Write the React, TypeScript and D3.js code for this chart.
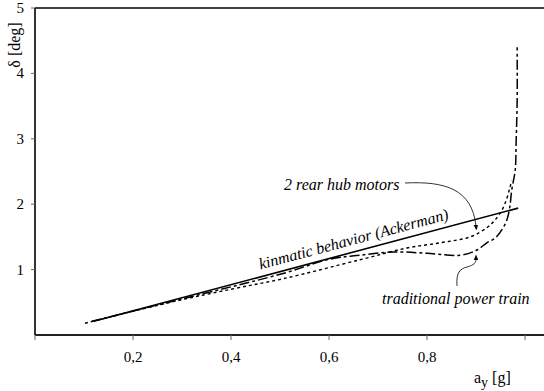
import React from "react";
import * as d3 from "d3";

const W = 544;
const H = 391;

// lateral acceleration ticks [g] and steering angle ticks [deg]
const xTicks = [0, 0.2, 0.4, 0.6, 0.8, 1.0];
const xTickLabels = ["", "0,2", "0,4", "0,6", "0,8", ""];
const yTicks = [1, 2, 3, 4, 5];
const yTickLabels = ["1", "2", "3", "4", "5"];

// kinematic (Ackerman) steering angle
const kinematicAy = [0.12, 0.986];
const kinematicDelta = [0.21, 1.94];

// vehicle with 2 rear hub motors
const hubAy = [0.102, 0.276, 0.4, 0.506, 0.663, 0.759, 0.827, 0.888, 0.922, 0.939, 0.953, 0.963, 0.969, 0.973];
const hubDelta = [0.18, 0.5, 0.7, 0.86, 1.15, 1.33, 1.41, 1.5, 1.64, 1.76, 1.91, 2.09, 2.25, 2.36];

// vehicle with traditional power train
const tradAy = [0.116, 0.337, 0.506, 0.602, 0.663, 0.731, 0.8, 0.867, 0.902, 0.922, 0.939, 0.953, 0.963, 0.969, 0.973, 0.98, 0.982, 0.984, 0.984];
const tradDelta = [0.21, 0.62, 0.94, 1.16, 1.22, 1.27, 1.25, 1.22, 1.3, 1.41, 1.48, 1.61, 1.76, 1.96, 2.22, 2.52, 2.98, 3.59, 4.4];

const serif = "Times New Roman";

export default function App() {
  const x = d3.scaleLinear().domain([0, 1]).range([35, 525]);
  const y = d3.scaleLinear().domain([0, 5]).range([335, 8]);

  const zip = (xs: number[], ys: number[]) => xs.map((v, i) => [v, ys[i]] as [number, number]);
  const line = d3
    .line<[number, number]>()
    .x((d) => x(d[0]))
    .y((d) => y(d[1]))
    .curve(d3.curveCatmullRom.alpha(0.5));

  const kinPath = line(zip(kinematicAy, kinematicDelta)) || "";
  const hubPath = line(zip(hubAy, hubDelta)) || "";
  const tradPath = line(zip(tradAy, tradDelta)) || "";

  const x0 = x(0);
  const yBottom = y(0);
  const yTop = y(5);

  // annotation arrows
  const hubTip: [number, number] = [x(0.9), y(1.575)];
  const hubStart: [number, number] = [405, 183];
  const hubArrow = `M${hubStart[0]},${hubStart[1]} C${hubStart[0] + 40},${hubStart[1] - 2} ${hubTip[0] - 4},${hubStart[1] + 6} ${hubTip[0]},${hubTip[1] - 6}`;

  const tradTip: [number, number] = [x(0.9), y(1.255)];
  const tradArrow = `M457,286 C456,272 460,269 467,267 C474,265 ${tradTip[0]},263 ${tradTip[0]},${tradTip[1] + 6}`;

  // rotation of the kinematic label follows the line slope
  const angle =
    (Math.atan2(
      y(kinematicDelta[1]) - y(kinematicDelta[0]),
      x(kinematicAy[1]) - x(kinematicAy[0])
    ) *
      180) /
    Math.PI;

  const lx = x(0.46);
  const ly = y(0.94) - 4;

  return (
    <svg width={W} height={H} fontFamily={serif} style={{ position: "absolute", left: 0, top: 0, background: "#fff" }}>
      <rect width={W} height={H} fill="#fff" />
      <defs>
        <marker id="head" viewBox="0 0 10 10" refX="2" refY="5" markerWidth="7" markerHeight="7" orient="auto">
          <path d="M0,1 L10,5 L0,9 Z" fill="#000" />
        </marker>
      </defs>

      {/* frame */}
      <line x1={x0} x2={W} y1={yTop} y2={yTop} stroke="#000" strokeWidth={1.6} />
      <line x1={x0} x2={x0} y1={yTop} y2={yBottom} stroke="#000" strokeWidth={1.6} />
      <line x1={x0} x2={W} y1={yBottom} y2={yBottom} stroke="#222" strokeWidth={1.8} />

      {/* x ticks */}
      {xTicks.map((t, i) => (
        <g key={"xt" + i}>
          <line x1={x(t)} x2={x(t)} y1={yBottom} y2={yBottom + 5} stroke="#666" strokeWidth={1} />
          <text x={x(t)} y={362} textAnchor="middle" fontSize={15} fontFamily={serif} fill="#000">
            {xTickLabels[i]}
          </text>
        </g>
      ))}

      {/* y ticks */}
      {yTicks.map((t, i) => (
        <g key={"yt" + i}>
          <line x1={x0 - 4} x2={x0} y1={y(t)} y2={y(t)} stroke="#666" strokeWidth={1} />
          <text x={24} y={y(t) + 5} textAnchor="end" fontSize={15} fontFamily={serif} fill="#000">
            {yTickLabels[i]}
          </text>
        </g>
      ))}

      {/* axis titles */}
      <text transform="translate(20,45) rotate(-90)" textAnchor="middle" fontSize={16} fontFamily={serif} fill="#000">
        δ [deg]
      </text>
      <text x={474} y={383} fontSize={16} fontFamily={serif} fill="#000">
        a<tspan dy={4} fontSize={14}>y</tspan>
        <tspan dy={-4}> [g]</tspan>
      </text>

      {/* curves */}
      <path d={kinPath} fill="none" stroke="#000" strokeWidth={1.6} />
      <path d={hubPath} fill="none" stroke="#000" strokeWidth={1.4} strokeDasharray="3,3" />
      <path d={tradPath} fill="none" stroke="#000" strokeWidth={1.5} strokeDasharray="10,3,3,3" />

      {/* labels */}
      <text x={lx} y={ly} transform={`rotate(${angle}, ${lx}, ${ly})`} fontSize={16} fontStyle="italic" fontFamily={serif} fill="#000">
        kinmatic behavior (Ackerman)
      </text>
      <text x={284} y={190} fontSize={16} fontStyle="italic" fontFamily={serif} fill="#000">
        2 rear hub motors
      </text>
      <text x={382} y={304} fontSize={16} fontStyle="italic" fontFamily={serif} fill="#000">
        traditional power train
      </text>

      <path d={hubArrow} fill="none" stroke="#000" strokeWidth={0.8} markerEnd="url(#head)" />
      <path d={tradArrow} fill="none" stroke="#000" strokeWidth={0.8} markerEnd="url(#head)" />
    </svg>
  );
}
